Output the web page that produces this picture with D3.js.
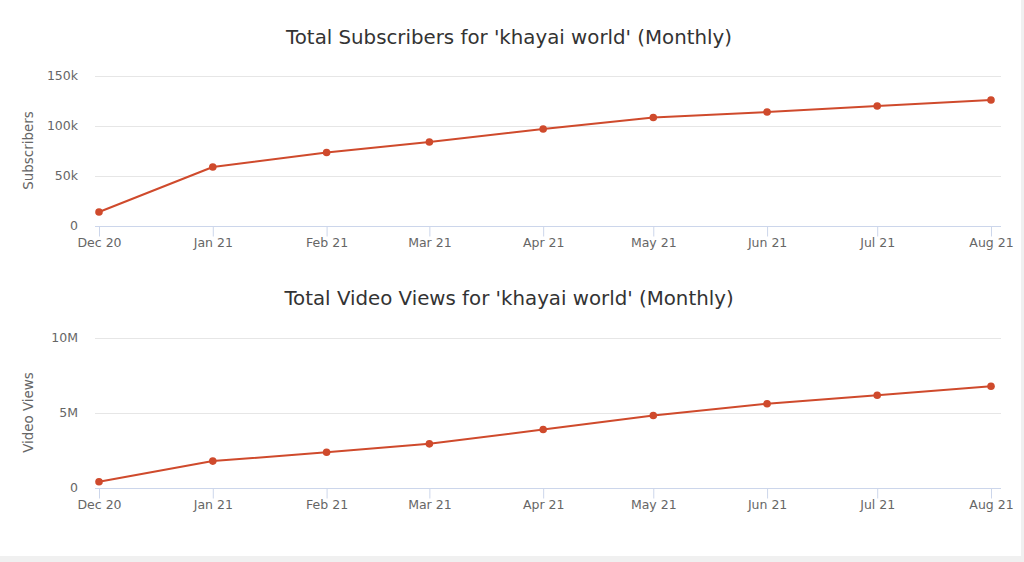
<!DOCTYPE html>
<html><head><meta charset="utf-8">
<script src="https://cdn.jsdelivr.net/npm/d3@7"></script>
<style>
html,body{margin:0;padding:0;background:#fff;}
svg{display:block;}
</style></head>
<body>
<svg id="c" width="1024" height="562"></svg>
<script>
const months = ["2020-12-01","2021-01-01","2021-02-01","2021-03-01","2021-04-01","2021-05-01","2021-06-01","2021-07-01","2021-08-01"];
const monthLabels = ["Dec 20","Jan 21","Feb 21","Mar 21","Apr 21","May 21","Jun 21","Jul 21","Aug 21"];
const subscribers = [13500, 58500, 73000, 83500, 96500, 108000, 113500, 119500, 125500];
const videoViews = [380000, 1760000, 2350000, 2910000, 3870000, 4800000, 5580000, 6150000, 6750000];
const subTicks = [0, 50000, 100000, 150000];
const subTickLabels = ["0","50k","100k","150k"];
const viewTicks = [0, 5000000, 10000000];
const viewTickLabels = ["0","5M","10M"];

const svg = d3.select("#c");
const FONT = "DejaVu Sans, sans-serif";
const lineColor = "#cf4a2c";

// page frame
svg.append("rect").attr("x",0).attr("y",0).attr("width",1024).attr("height",562).attr("fill","#f0f0f0");
svg.append("rect").attr("x",0).attr("y",0).attr("width",1021).attr("height",556).attr("fill","#fff");

const parse = d3.utcParse("%Y-%m-%d");
const dates = months.map(parse);

function drawChart(cfg){
  const g = svg.append("g");
  const x = d3.scaleUtc().domain([dates[0], dates[dates.length-1]]).range([99, 991]);
  const y = d3.scaleLinear().domain([0, cfg.max]).range([cfg.y0, cfg.yTop]);
  const plotL = 95, plotR = 1001;

  g.append("text").attr("x", 509).attr("y", cfg.titleY).attr("text-anchor","middle")
    .attr("font-family", FONT).attr("font-size", 19.8).attr("fill","#333").text(cfg.title);

  // gridlines
  g.selectAll(".grid").data(cfg.ticks.slice(1)).join("line")
    .attr("x1", plotL).attr("x2", plotR)
    .attr("y1", d=>Math.round(y(d))+0.5).attr("y2", d=>Math.round(y(d))+0.5)
    .attr("stroke","#e6e6e6").attr("stroke-width",1);

  // y labels
  g.selectAll(".yl").data(cfg.ticks).join("text")
    .attr("x", 78).attr("y", d=>y(d)+4.5).attr("text-anchor","end")
    .attr("font-family", FONT).attr("font-size", 12.5).attr("fill","#666")
    .text((d,i)=>cfg.tickLabels[i]);

  // y title
  g.append("text").attr("transform", `translate(33,${(cfg.y0+cfg.yTop)/2}) rotate(-90)`)
    .attr("text-anchor","middle").attr("font-family", FONT).attr("font-size", 13.4)
    .attr("fill","#666").text(cfg.yTitle);

  // x axis
  const axis = d3.axisBottom(x).tickValues(dates).tickSize(10)
    .tickFormat((d,i)=>monthLabels[i]).tickSizeOuter(0);
  const ax = g.append("g").attr("transform", `translate(0,${Math.round(cfg.y0)+0.5})`).call(axis);
  ax.select(".domain").attr("d", `M${plotL},0H${plotR}`).attr("stroke","#ccd6eb");
  ax.selectAll(".tick line").attr("stroke","#ccd6eb");
  ax.selectAll(".tick text").attr("font-family", FONT).attr("font-size", 12.5)
    .attr("fill","#666").attr("y", 12).attr("dy","0.71em");

  const pts = dates.map((d,i)=>({d, v: cfg.values[i]}));
  g.append("path").datum(pts)
    .attr("d", d3.line().x(p=>x(p.d)).y(p=>y(p.v)))
    .attr("fill","none").attr("stroke", lineColor).attr("stroke-width", 2)
    .attr("stroke-linejoin","round");
  g.selectAll(".pt").data(pts).join("circle")
    .attr("cx", p=>x(p.d)).attr("cy", p=>y(p.v)).attr("r", 3.8).attr("fill", lineColor);
}

drawChart({title:"Total Subscribers for 'khayai world' (Monthly)", titleY:44, yTitle:"Subscribers",
  values: subscribers, ticks: subTicks, tickLabels: subTickLabels, max:150000, y0:225.5, yTop:75.5});
drawChart({title:"Total Video Views for 'khayai world' (Monthly)", titleY:305, yTitle:"Video Views",
  values: videoViews, ticks: viewTicks, tickLabels: viewTickLabels, max:10000000, y0:487.5, yTop:337.5});
</script>
</body></html>
